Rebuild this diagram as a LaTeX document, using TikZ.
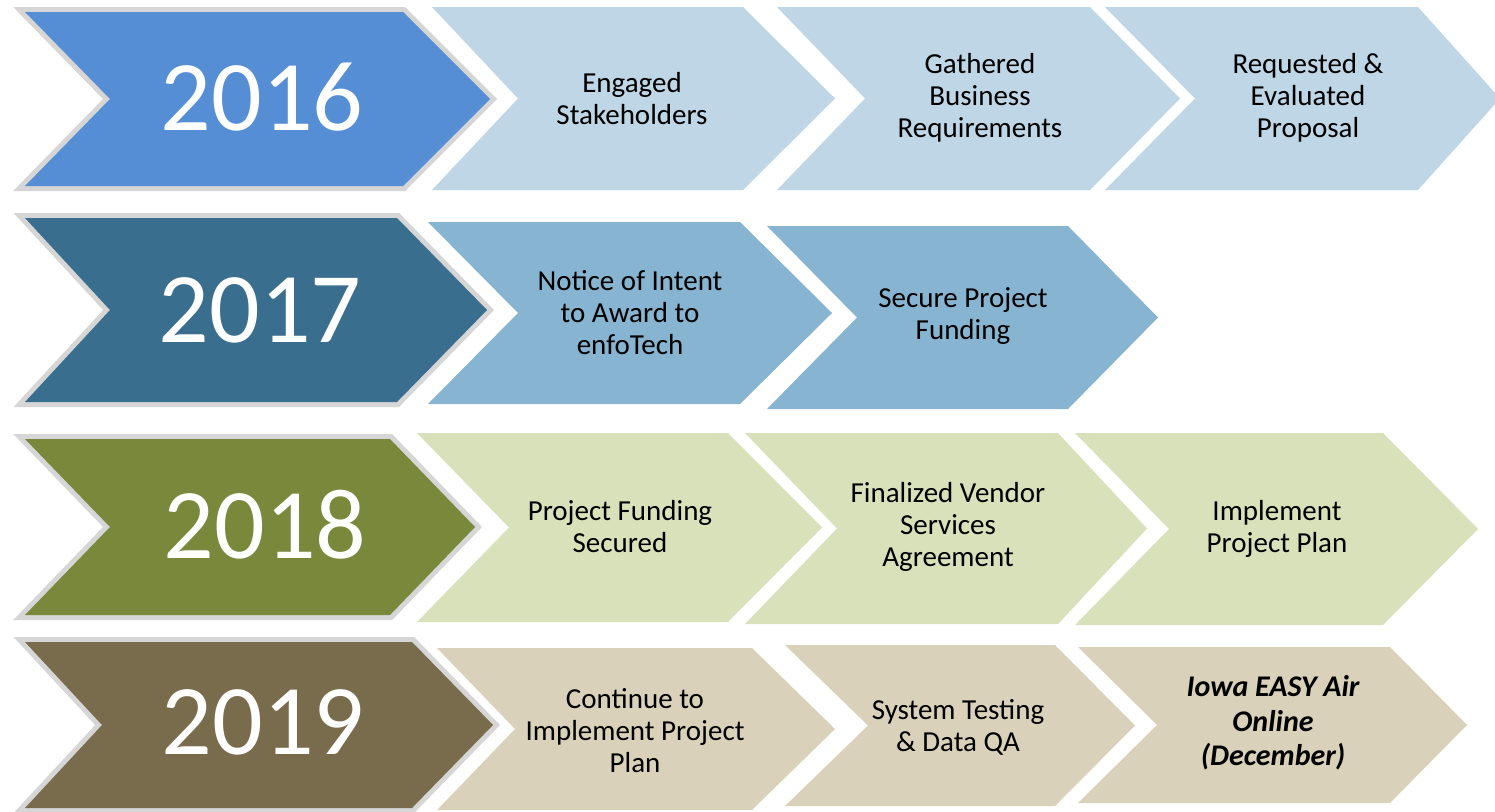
\documentclass[tikz,border=0pt]{standalone}
\usepackage{fontspec}
\setmainfont{Carlito}
\definecolor{cA}{RGB}{85,142,213}
\definecolor{cAl}{RGB}{190,214,229}
\definecolor{cB}{RGB}{58,110,143}
\definecolor{cBl}{RGB}{135,180,208}
\definecolor{cC}{RGB}{121,136,59}
\definecolor{cCl}{RGB}{217,225,186}
\definecolor{cD}{RGB}{120,108,76}
\definecolor{cDl}{RGB}{217,209,185}
\definecolor{yearedge}{RGB}{214,214,214}
\newcommand{\chevshape}[7]{%
  \path[#7] (#1,#5) -- (#3,#5) -- (#4,{(#5+#6)/2}) -- (#3,#6) -- (#1,#6) -- (#2,{(#5+#6)/2}) -- cycle;}
\tikzset{
  yearbox/.style={draw=yearedge, line width=10pt, line join=miter, fill=yearedge},
  yeartext/.style={text=white, font=\fontsize{100}{110}\selectfont, inner sep=0pt},
  steptext/.style={text=black, font=\fontsize{29}{32}\selectfont, align=center, inner sep=0pt},
}
\begin{document}
\begin{tikzpicture}[x=1pt,y=-1pt]
\useasboundingbox[fill=white] (0,0) rectangle (1495,811);
% ---------- row 2016 ----------
\chevshape{25}{110}{403}{490}{12}{186}{yearbox}
\chevshape{25}{110}{403}{490}{12}{186}{fill=cA}
\chevshape{432}{518}{743}{835}{7}{190}{fill=cAl}
\chevshape{777}{865}{1090}{1180}{7}{190}{fill=cAl}
\chevshape{1105}{1195}{1418}{1500}{7}{190}{fill=cAl}
\node[yeartext] (y16) at (262,97) {2016};
\node[steptext] (s16a) at (632,99) {Engaged\\Stakeholders};
\node[steptext] (s16b) at (980,98) {Gathered\\Business\\Requirements};
\node[steptext] (s16c) at (1308,98) {Requested \&\\Evaluated\\Proposal};
% ---------- row 2017 ----------
\chevshape{25}{110}{397}{487}{218}{402}{yearbox}
\chevshape{25}{110}{397}{487}{218}{402}{fill=cB}
\chevshape{428}{518}{740}{832}{222}{404}{fill=cBl}
\chevshape{767}{857}{1068}{1158}{226}{409}{fill=cBl}
\node[yeartext] (y17) at (260,310) {2017};
\node[steptext] (s17a) at (630,313) {Notice of Intent\\to Award to\\enfoTech};
\node[steptext] (s17b) at (963,316) {Secure Project\\Funding};
% ---------- row 2018 ----------
\chevshape{25}{110}{390}{475}{439}{615}{yearbox}
\chevshape{25}{110}{390}{475}{439}{615}{fill=cC}
\chevshape{417}{509}{728}{822}{433}{622}{fill=cCl}
\chevshape{745}{837}{1058}{1147}{433}{624}{fill=cCl}
\chevshape{1075}{1169}{1383}{1478}{433}{625}{fill=cCl}
\node[yeartext] (y18) at (265,525) {2018};
\node[steptext] (s18a) at (620,527) {Project Funding\\Secured};
\node[steptext] (s18b) at (948,527) {Finalized Vendor\\Services\\Agreement};
\node[steptext] (s18c) at (1277,529) {Implement\\Project Plan};
% ---------- row 2019 ----------
\chevshape{25}{102}{412}{493}{642}{808}{yearbox}
\chevshape{25}{102}{412}{493}{642}{808}{fill=cD}
\chevshape{437}{515}{752}{835}{648}{810}{fill=cDl}
\chevshape{785}{868}{1055}{1135}{645}{806}{fill=cDl}
\chevshape{1078}{1157}{1390}{1467}{647}{803}{fill=cDl}
\node[yeartext] (y19) at (263,722) {2019};
\node[steptext] (s19a) at (635,731) {Continue to\\Implement Project\\Plan};
\node[steptext] (s19b) at (958,727) {System Testing\\\& Data QA};
\node[steptext, font=\fontsize{30}{34.5}\selectfont\bfseries\itshape] (s19c) at (1273,723) {Iowa EASY Air\\Online\\(December)};
\end{tikzpicture}
\end{document}
